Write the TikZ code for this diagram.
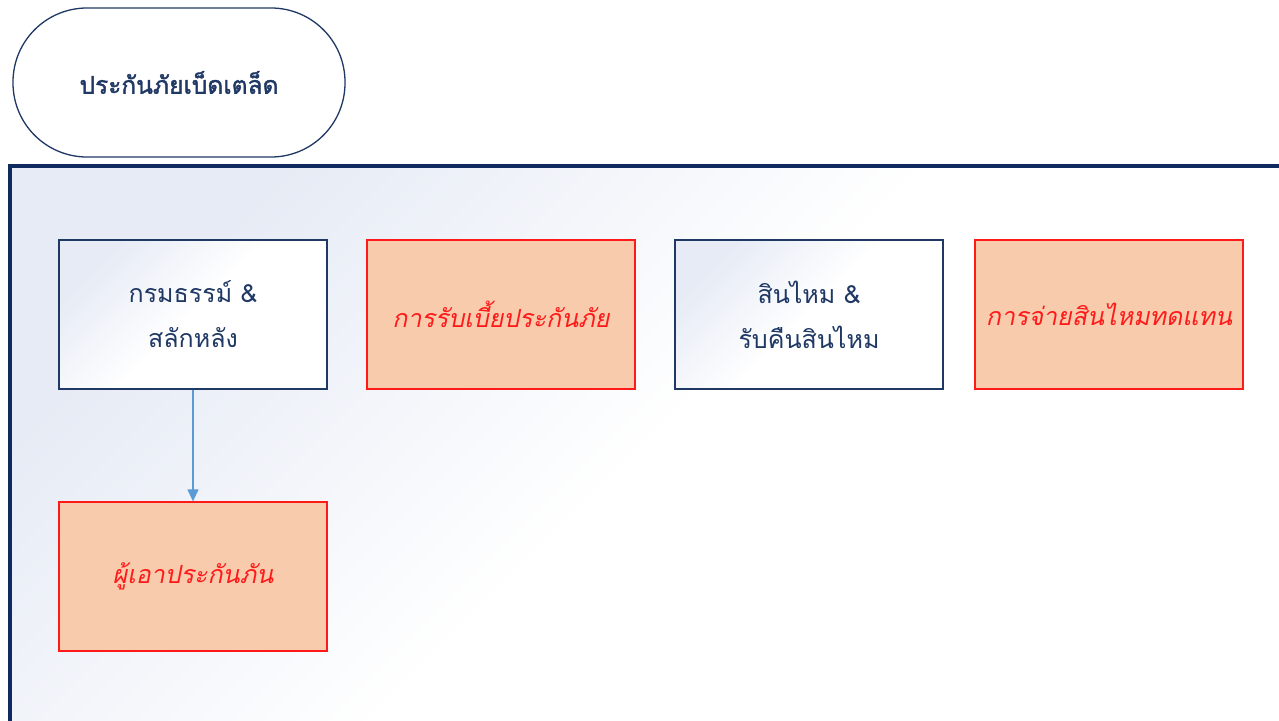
\documentclass[tikz,border=0pt]{standalone}
\usepackage{fontspec}
\newfontfamily\thai[Script=Thai]{Loma}
\newfontfamily\thaiit[Script=Thai,FakeSlant=0.2]{Loma}
\newfontfamily\thaibf[Script=Thai,FakeBold=1.5]{Loma}
\usetikzlibrary{arrows.meta}
\definecolor{navy}{HTML}{1F3864}
\definecolor{panelnavy}{HTML}{0E2A5E}
\definecolor{salmon}{HTML}{F8CBAD}
\definecolor{redline}{HTML}{FF1A1A}
\definecolor{arrowblue}{HTML}{5B9BD5}
\definecolor{paleblue}{HTML}{E6EBF5}
\tikzset{
  x=1pt, y=-1pt,
  softshade/.style={top color=paleblue, bottom color=white, middle color=white, shading angle=45},
  whitebox/.style={draw=navy, line width=1.3pt, softshade,
    minimum width=268pt, minimum height=149pt, align=center, text=navy, font=\thai\fontsize{25}{45}\selectfont, inner sep=0pt},
  redbox/.style={draw=redline, line width=1.3pt, fill=salmon,
    minimum width=268pt, minimum height=149pt, align=center, text=redline, font=\thaiit\fontsize{25}{45}\selectfont, inner sep=0pt},
  terminal/.style={draw=navy, line width=1.3pt, fill=white, rounded corners=74pt,
    minimum width=332pt, minimum height=149pt, text=navy, font=\thaibf\fontsize{24.5}{30}\selectfont},
  flow/.style={draw=arrowblue, line width=1.2pt, -{Triangle[length=12pt,width=11pt]}}
}
\begin{document}
\begin{tikzpicture}
\useasboundingbox (0,0) rectangle (1279,720);
\clip (0,0) rectangle (1279,720);
\fill[white] (0,0) rectangle (1279,720);
\node[terminal] (title) at (179,82.5) {ประกันภัยเบ็ดเตล็ด};
\shade[softshade] (10,165) rectangle (1290,730);
\draw[panelnavy, line width=4pt] (10,730) -- (10,166) -- (1290,166);
\node[whitebox] (policy) at (193,314.5) {กรมธรรม์ \&\\สลักหลัง};
\node[redbox] (premium) at (501,314.5) {การรับเบี้ยประกันภัย};
\node[whitebox] (claims) at (809,314.5) {สินไหม \&\\รับคืนสินไหม};
\node[redbox] (payout) at (1109,314.5) {การจ่ายสินไหมทดแทน};
\node[redbox] (insured) at (193,576.5) {ผู้เอาประกันภัน};
\draw[flow] (policy.south) -- (insured.north);
\end{tikzpicture}
\end{document}
